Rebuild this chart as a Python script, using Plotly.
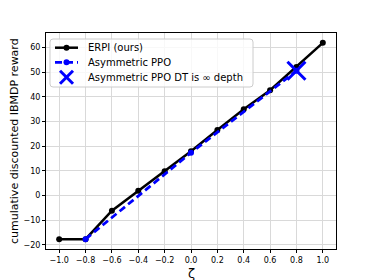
import plotly.graph_objects as go

zeta = [-1.0, -0.8, -0.6, -0.4, -0.2, 0.0, 0.2, 0.4, 0.6, 0.8, 1.0]
erpi = [-17.7, -17.7, -6.2, 1.9, 9.8, 17.9, 26.5, 34.9, 42.6, 52.0, 61.8]
ppo_zeta = [-0.8, 0.0, 0.8]
ppo = [-17.7, 17.3, 50.5]
dt_zeta = [0.8]
dt_val = [50.5]
x_ticks = [-1.0, -0.8, -0.6, -0.4, -0.2, 0.0, 0.2, 0.4, 0.6, 0.8, 1.0]
y_ticks = [-20, -10, 0, 10, 20, 30, 40, 50, 60]
legend_names = ["ERPI (ours)", "Asymmetric PPO", "Asymmetric PPO DT is ∞ depth"]

# page body has an 8px margin; figure sized so plot area lands where the reference has it
W, H = 366, 272
ML, MR, MT, MB = 38, 38, 25, 31
PW, PH = W - ML - MR, H - MT - MB

def px(xw):  # window x -> paper x
    return (xw - 8 - ML) / PW

def py(yw):  # window y -> paper y
    return 1 - (yw - 8 - MT) / PH

fig = go.Figure()
fig.add_trace(go.Scatter(x=zeta, y=erpi, mode="lines+markers", name=legend_names[0],
                         line=dict(color="black", width=2.5),
                         marker=dict(color="black", size=6), showlegend=False))
fig.add_trace(go.Scatter(x=ppo_zeta, y=ppo, mode="lines+markers", name=legend_names[1],
                         line=dict(color="blue", width=2.8, dash="7px,4px"),
                         marker=dict(color="blue", size=6), showlegend=False))
fig.add_trace(go.Scatter(x=dt_zeta, y=dt_val, mode="markers", name=legend_names[2],
                         marker=dict(color="blue", size=18, symbol="x-thin",
                                     line=dict(color="blue", width=3)), showlegend=False))

# manual legend (matplotlib-style compact layout)
shapes = []
annotations = []
bx0, bx1, by0, by1 = px(50), px(253), py(87), py(39)
cr_x, cr_y = 3 / PW, 3 / PH
box_path = (f"M {bx0 + cr_x},{by1} L {bx1 - cr_x},{by1} Q {bx1},{by1} {bx1},{by1 - cr_y} "
            f"L {bx1},{by0 + cr_y} Q {bx1},{by0} {bx1 - cr_x},{by0} "
            f"L {bx0 + cr_x},{by0} Q {bx0},{by0} {bx0},{by0 + cr_y} "
            f"L {bx0},{by1 - cr_y} Q {bx0},{by1} {bx0 + cr_x},{by1} Z")
shapes.append(dict(type="path", xref="paper", yref="paper", layer="above", path=box_path,
                   fillcolor="rgba(255,255,255,0.8)", line=dict(color="#cccccc", width=1)))
rows = [47.7, 62.3, 77.3]
lx0, lx1, mx = 55, 78, 66.5
rx, ry = 3 / PW, 3 / PH
# ERPI row
shapes.append(dict(type="line", xref="paper", yref="paper", layer="above",
                   x0=px(lx0), x1=px(lx1), y0=py(rows[0]), y1=py(rows[0]),
                   line=dict(color="black", width=2.5)))
shapes.append(dict(type="circle", xref="paper", yref="paper", layer="above",
                   x0=px(mx) - rx, x1=px(mx) + rx, y0=py(rows[0]) - ry, y1=py(rows[0]) + ry,
                   fillcolor="black", line=dict(color="black", width=0)))
# PPO row
shapes.append(dict(type="line", xref="paper", yref="paper", layer="above",
                   x0=px(lx0), x1=px(lx1), y0=py(rows[1]), y1=py(rows[1]),
                   line=dict(color="blue", width=2.8, dash="7px,4px")))
shapes.append(dict(type="circle", xref="paper", yref="paper", layer="above",
                   x0=px(mx) - rx, x1=px(mx) + rx, y0=py(rows[1]) - ry, y1=py(rows[1]) + ry,
                   fillcolor="blue", line=dict(color="blue", width=0)))
# X row
d = 6.5
for s in (1, -1):
    shapes.append(dict(type="line", xref="paper", yref="paper", layer="above",
                       x0=px(mx - d), x1=px(mx + d), y0=py(rows[2] - s * d), y1=py(rows[2] + s * d),
                       line=dict(color="blue", width=3)))
for name, r in zip(legend_names, rows):
    annotations.append(dict(text=name, xref="paper", yref="paper", x=px(86), y=py(r),
                            xanchor="left", yanchor="middle", showarrow=False,
                            font=dict(size=10, color="black")))

# axis titles
annotations.append(dict(text="cumulative discounted IBMDP reward", xref="paper", yref="paper",
                        x=px(14), y=py(141), textangle=-90, xanchor="center", yanchor="middle",
                        showarrow=False, font=dict(size=11, color="black")))
annotations.append(dict(text="ζ", xref="paper", yref="paper", x=px(191), y=py(273),
                        xanchor="center", yanchor="middle", showarrow=False,
                        font=dict(size=13, color="black")))

fig.update_layout(
    width=W, height=H,
    margin=dict(l=ML, r=MR, t=MT, b=MB),
    plot_bgcolor="white", paper_bgcolor="white",
    font=dict(family="DejaVu Sans", color="black", size=8),
    showlegend=False,
    shapes=shapes, annotations=annotations,
    xaxis=dict(range=[-1.1, 1.1], tickvals=x_ticks,
               tickformat=".1f", showgrid=True, gridcolor="#d9d9d9", gridwidth=1,
               ticks="outside", ticklen=3, tickcolor="black", automargin=False,
               showline=True, linecolor="black", linewidth=1, mirror=True, zeroline=False),
    yaxis=dict(range=[-21.7, 65.8], tickvals=y_ticks,
               showgrid=True, gridcolor="#d9d9d9", gridwidth=1,
               ticks="outside", ticklen=3, tickcolor="black", automargin=False,
               showline=True, linecolor="black", linewidth=1, mirror=True, zeroline=False),
)

fig.write_html("out.html")
